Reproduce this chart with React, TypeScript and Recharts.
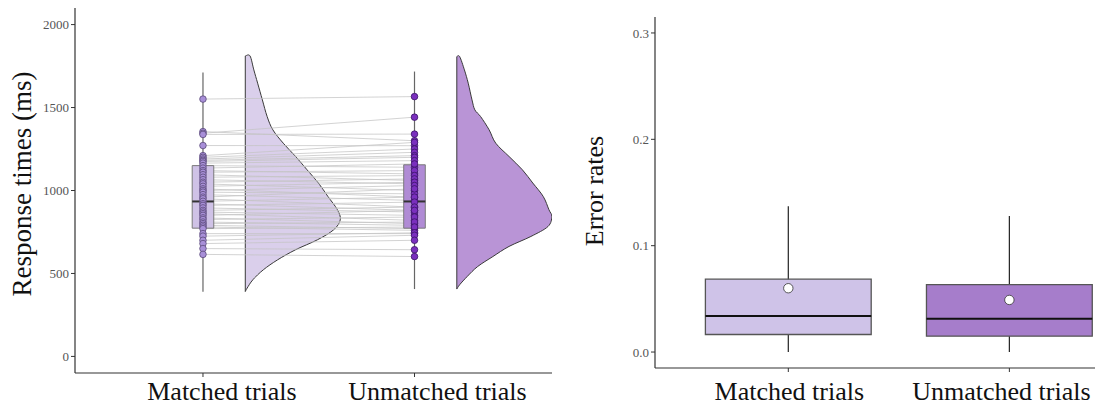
import React from 'react';
import { ComposedChart, Scatter, XAxis, YAxis } from 'recharts';

const categories = ['Matched trials', 'Unmatched trials'];

// mean response time per participant (ms), same order in both lists
const matchedRT = [
  1551, 1355, 1345, 1338, 1271, 1210, 1200, 1190, 1182, 1175, 1165, 1150,
  1135, 1120, 1110, 1095, 1080, 1065, 1050, 1040, 1025, 1010, 1000, 990,
  975, 960, 950, 935, 920, 910, 895, 880, 870, 860, 850, 835,
  825, 810, 800, 790, 780, 770, 740, 725, 700, 680, 650, 615,
];
const unmatchedRT = [
  1566, 1300, 1442, 1340, 1270, 1290, 1250, 1230, 1210, 1200, 1180, 1140,
  1160, 1100, 1120, 1060, 1090, 1040, 1070, 1000, 1050, 960, 1030, 980,
  940, 1010, 900, 960, 880, 930, 870, 900, 850, 820, 880, 800,
  840, 790, 810, 770, 760, 780, 740, 745, 730, 700, 643, 602,
];

// boxplot stats: [lower whisker, q1, median, q3, upper whisker]
const rtBoxMatched = [390, 773, 934, 1150, 1711];
const rtBoxUnmatched = [406, 773, 934, 1155, 1717];

// half violins: RT level and relative density at that level
const matchedViolinY = [1811, 1811, 1727, 1647, 1546, 1446, 1366, 1285, 1205, 1125, 1045, 964, 884, 823, 763, 703, 643, 582, 522, 462, 412, 391];
const matchedViolinW = [0, 0.05, 0.09, 0.13, 0.18, 0.23, 0.29, 0.4, 0.53, 0.65, 0.77, 0.87, 0.97, 1, 0.93, 0.76, 0.53, 0.34, 0.19, 0.08, 0.02, 0];
const unmatchedViolinY = [1807, 1807, 1727, 1647, 1546, 1486, 1446, 1366, 1285, 1205, 1125, 1045, 964, 884, 843, 783, 723, 663, 602, 542, 482, 432, 406];
const unmatchedViolinW = [0, 0.03, 0.08, 0.12, 0.16, 0.19, 0.25, 0.34, 0.41, 0.55, 0.69, 0.8, 0.91, 0.97, 1, 0.96, 0.78, 0.55, 0.38, 0.22, 0.11, 0.03, 0];

const rtTicks = [0, 500, 1000, 1500, 2000];

// error rates: [lower whisker, q1, median, q3, upper whisker]
const errBoxMatched = [0, 0.0165, 0.0338, 0.0685, 0.137];
const errBoxUnmatched = [0, 0.0149, 0.0313, 0.0634, 0.128];
const errMeans = [0.06, 0.049];
const errTicks = [0, 0.1, 0.2, 0.3];

const SERIF = '"Liberation Serif", "Times New Roman", serif';
const VIOLIN_GAP = 0.2;
const VIOLIN_SCALE = 0.449;
const RT_BOX_HALF = 0.051;
const ERR_BOX_HALF = 0.375;

type Pt = { x: number; y: number };

const smoothPath = (pts: Pt[]) => {
  let d = `M${pts[0].x},${pts[0].y}`;
  for (let i = 0; i < pts.length - 1; i++) {
    const p0 = pts[i - 1] || pts[i];
    const p1 = pts[i];
    const p2 = pts[i + 1];
    const p3 = pts[i + 2] || p2;
    const c1x = p1.x + (p2.x - p0.x) / 6;
    const c1y = p1.y + (p2.y - p0.y) / 6;
    const c2x = p2.x - (p3.x - p1.x) / 6;
    const c2y = p2.y - (p3.y - p1.y) / 6;
    d += ` C${c1x},${c1y} ${c2x},${c2y} ${p2.x},${p2.y}`;
  }
  return d + ' Z';
};

const cleanPts = (props: any): Pt[] =>
  (props.points || []).filter((p: any) => p && p.x != null && p.y != null);

const violinShape = (fill: string) => (props: any) => {
  const pts = cleanPts(props);
  if (pts.length < 2) return <g />;
  return <path d={smoothPath(pts)} fill={fill} stroke="#3a3a3a" strokeWidth={1} />;
};

const polygonShape = (fill: string, stroke: string, width: number) => (props: any) => {
  const pts = cleanPts(props);
  if (pts.length < 2) return <g />;
  const d = pts.map((p, i) => `${i ? 'L' : 'M'}${p.x},${p.y}`).join(' ') + ' Z';
  return <path d={d} fill={fill} stroke={stroke} strokeWidth={width} />;
};

const segmentShape = (stroke: string, width: number, opacity = 1) => (props: any) => {
  const pts = cleanPts(props);
  let d = '';
  for (let i = 0; i + 1 < pts.length; i += 2) {
    d += `M${pts[i].x},${pts[i].y} L${pts[i + 1].x},${pts[i + 1].y} `;
  }
  return <path d={d} fill="none" stroke={stroke} strokeWidth={width} strokeOpacity={opacity} />;
};

const noSymbol = () => <g />;

const dot = (fill: string, stroke: string, r: number) => (p: any) =>
  <circle cx={p.cx} cy={p.cy} r={r} fill={fill} stroke={stroke} strokeWidth={0.8} />;

const violinData = (center: number, ys: number[], ws: number[]) =>
  ys.map((y, i) => ({ x: center + VIOLIN_GAP + ws[i] * VIOLIN_SCALE, y }));

const boxData = (center: number, half: number, stats: number[]) => [
  { x: center - half, y: stats[1] },
  { x: center + half, y: stats[1] },
  { x: center + half, y: stats[3] },
  { x: center - half, y: stats[3] },
];
const whiskerData = (center: number, stats: number[]) => [
  { x: center, y: stats[0] },
  { x: center, y: stats[4] },
];
const medianData = (center: number, half: number, stats: number[]) => [
  { x: center - half, y: stats[2] },
  { x: center + half, y: stats[2] },
];

const pairData = matchedRT.flatMap((m, i) => [
  { x: 1, y: m },
  { x: 2, y: unmatchedRT[i] },
]);
const matchedPts = matchedRT.map((y) => ({ x: 1, y }));
const unmatchedPts = unmatchedRT.map((y) => ({ x: 2, y }));
const meanPts = errMeans.map((y, i) => ({ x: i + 1, y }));

const makeCatTick = (shifts: number[], down: number) => (props: any) => {
  const { x, y, payload } = props;
  const idx = Math.round(payload.value) - 1;
  return (
    <text x={x + (shifts[idx] || 0)} y={y + down} textAnchor="middle" fontFamily={SERIF} fontSize={26} fill="#111">
      {categories[idx]}
    </text>
  );
};

const yTickStyle = { fontSize: 13, fill: '#555', fontFamily: SERIF };
const axisStyle = { stroke: '#333', strokeWidth: 1.2 };

const RTChart = () => (
  <ComposedChart width={560} height={407} margin={{ top: 8, right: 8, bottom: 0, left: 0 }}>
    <XAxis
      type="number"
      dataKey="x"
      domain={[0.395, 2.65]}
      ticks={[1, 2]}
      allowDataOverflow
      height={34}
      tickSize={4}
      tickMargin={2}
      axisLine={axisStyle}
      tickLine={{ stroke: '#333' }}
      tick={makeCatTick([19, 23], 21)}
    />
    <YAxis
      type="number"
      dataKey="y"
      domain={[-100, 2100]}
      ticks={rtTicks}
      allowDataOverflow
      width={75}
      tickSize={4}
      tickMargin={2}
      axisLine={axisStyle}
      tickLine={{ stroke: '#333' }}
      tick={yTickStyle}
      label={{
        content: () => (
          <text x={31} y={184} transform="rotate(-90 31 184)" textAnchor="middle" fontFamily={SERIF} fontSize={27} fill="#111">
            Response times (ms)
          </text>
        ),
      }}
    />
    <Scatter data={violinData(1, matchedViolinY, matchedViolinW)} shape={noSymbol} line={violinShape('#dacfeb')} isAnimationActive={false} />
    <Scatter data={violinData(2, unmatchedViolinY, unmatchedViolinW)} shape={noSymbol} line={violinShape('#b994d6')} isAnimationActive={false} />
    <Scatter data={pairData} shape={noSymbol} line={segmentShape('#c4c4c4', 1, 0.75)} isAnimationActive={false} />
    <Scatter data={whiskerData(1, rtBoxMatched)} shape={noSymbol} line={segmentShape('#666', 1.2)} isAnimationActive={false} />
    <Scatter data={whiskerData(2, rtBoxUnmatched)} shape={noSymbol} line={segmentShape('#666', 1.2)} isAnimationActive={false} />
    <Scatter data={boxData(1, RT_BOX_HALF, rtBoxMatched)} shape={noSymbol} line={polygonShape('#cfc2e6', '#7a7a7a', 1)} isAnimationActive={false} />
    <Scatter data={boxData(2, RT_BOX_HALF, rtBoxUnmatched)} shape={noSymbol} line={polygonShape('#b08bd5', '#7a7a7a', 1)} isAnimationActive={false} />
    <Scatter data={medianData(1, RT_BOX_HALF, rtBoxMatched)} shape={noSymbol} line={segmentShape('#333', 2)} isAnimationActive={false} />
    <Scatter data={medianData(2, RT_BOX_HALF, rtBoxUnmatched)} shape={noSymbol} line={segmentShape('#333', 2)} isAnimationActive={false} />
    <Scatter data={matchedPts} shape={dot('#a88fd8', '#5a4a78', 3.3)} isAnimationActive={false} />
    <Scatter data={unmatchedPts} shape={dot('#7a2fbe', '#3a1466', 3.3)} isAnimationActive={false} />
  </ComposedChart>
);

const ErrChart = () => (
  <ComposedChart width={580} height={407} margin={{ top: 17, right: 8, bottom: 0, left: 0 }}>
    <XAxis
      type="number"
      dataKey="x"
      domain={[0.397, 2.6]}
      ticks={[1, 2]}
      allowDataOverflow
      height={39}
      tickSize={4}
      tickMargin={2}
      axisLine={axisStyle}
      tickLine={{ stroke: '#333' }}
      tick={makeCatTick([1, -8], 26)}
    />
    <YAxis
      type="number"
      dataKey="y"
      domain={[-0.015, 0.315]}
      ticks={errTicks}
      allowDataOverflow
      width={85}
      tickSize={4}
      tickMargin={2}
      axisLine={axisStyle}
      tickLine={{ stroke: '#333' }}
      tick={yTickStyle}
      tickFormatter={(v: number) => v.toFixed(1)}
      label={{
        content: () => (
          <text x={33} y={191} transform="rotate(-90 33 191)" textAnchor="middle" fontFamily={SERIF} fontSize={26} fill="#111">
            Error rates
          </text>
        ),
      }}
    />
    <Scatter data={whiskerData(1, errBoxMatched)} shape={noSymbol} line={segmentShape('#222', 1.2)} isAnimationActive={false} />
    <Scatter data={whiskerData(2, errBoxUnmatched)} shape={noSymbol} line={segmentShape('#222', 1.2)} isAnimationActive={false} />
    <Scatter data={boxData(1, ERR_BOX_HALF, errBoxMatched)} shape={noSymbol} line={polygonShape('#cfc3e8', '#555', 1.3)} isAnimationActive={false} />
    <Scatter data={boxData(2, ERR_BOX_HALF, errBoxUnmatched)} shape={noSymbol} line={polygonShape('#a67dcb', '#555', 1.3)} isAnimationActive={false} />
    <Scatter data={medianData(1, ERR_BOX_HALF, errBoxMatched)} shape={noSymbol} line={segmentShape('#111', 2)} isAnimationActive={false} />
    <Scatter data={medianData(2, ERR_BOX_HALF, errBoxUnmatched)} shape={noSymbol} line={segmentShape('#111', 2)} isAnimationActive={false} />
    <Scatter data={meanPts} shape={dot('#ffffff', '#333', 4.7)} isAnimationActive={false} />
  </ComposedChart>
);

export default function App() {
  return (
    <div style={{ position: 'absolute', left: 0, top: 0, width: 1095, height: 407, overflow: 'hidden', background: '#fff' }}>
      <div style={{ position: 'absolute', left: 0, top: 0 }}>
        <RTChart />
      </div>
      <div style={{ position: 'absolute', left: 570, top: 0 }}>
        <ErrChart />
      </div>
    </div>
  );
}
